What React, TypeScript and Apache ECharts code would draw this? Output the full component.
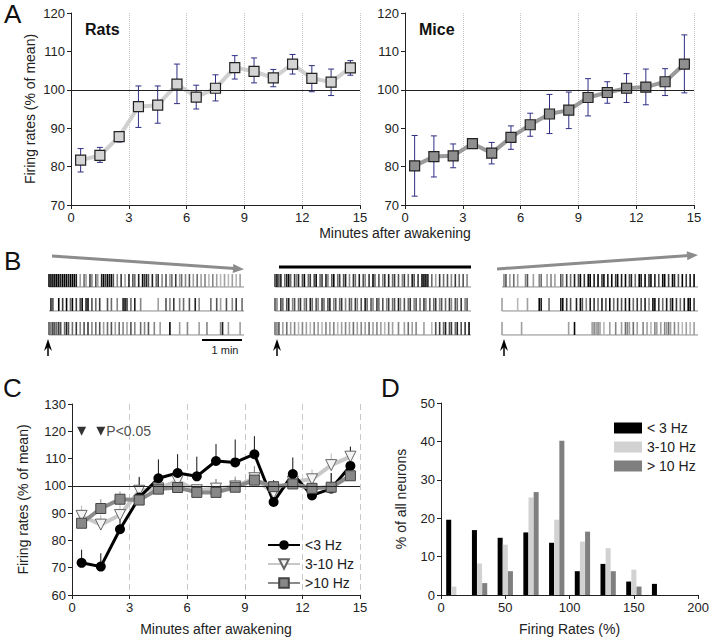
import React, { useEffect, useRef } from "react";
import * as echarts from "echarts";

const FONT = "Liberation Sans, Arial, sans-serif";

// Panel A
const minutes = [0.5, 1.5, 2.5, 3.5, 4.5, 5.5, 6.5, 7.5, 8.5, 9.5, 10.5, 11.5, 12.5, 13.5, 14.5];
const ratsMean = [81.7, 82.9, 87.8, 95.6, 96.0, 101.5, 98.1, 100.4, 105.8, 104.8, 103.1, 106.7, 103.0, 102.0, 105.7];
const ratsUpper = [84.7, 85.0, 88.9, 101.0, 101.0, 106.7, 101.2, 103.9, 108.9, 108.3, 105.3, 109.2, 106.3, 105.4, 107.6];
const ratsLower = [78.6, 81.1, 86.4, 90.2, 91.3, 96.4, 95.0, 97.1, 102.8, 101.8, 100.8, 104.1, 99.5, 98.5, 103.8];
const miceMean = [80.2, 82.6, 82.8, 86.0, 83.5, 87.6, 90.9, 93.7, 94.7, 98.0, 99.3, 100.4, 100.7, 102.1, 106.7];
const miceUpper = [88.1, 88.0, 85.9, 87.1, 86.3, 90.6, 93.9, 98.8, 99.4, 102.9, 102.1, 104.2, 105.4, 105.5, 114.3];
const miceLower = [72.3, 77.3, 79.7, 85.0, 80.7, 84.5, 87.9, 88.6, 89.9, 93.2, 96.5, 96.7, 96.1, 98.5, 99.2];

// Panel C
const lowMean = [71.8, 70.4, 84.1, 95.7, 102.8, 104.7, 103.5, 109.1, 108.6, 111.6, 94.1, 104.3, 96.5, 99.0, 107.3];
const lowUpper = [76.6, 75.3, 89.7, 103.3, 109.7, 111.6, 110.7, 115.3, 117.0, 118.2, 102.1, 110.4, 100.9, 104.7, 114.3];
const midMean = [89.0, 85.8, 89.3, 98.2, 99.1, 101.8, 98.4, 99.0, 99.8, 102.8, 97.3, 101.5, 102.4, 107.6, 110.7];
const midUpper = [92.7, 89.4, 93.3, 103.0, 101.5, 104.5, 100.5, 102.5, 102.5, 106.8, 99.5, 103.5, 106.0, 111.9, 114.6];
const highMean = [86.3, 91.7, 95.1, 94.8, 98.8, 99.4, 97.6, 97.6, 99.5, 102.1, 99.7, 100.7, 99.1, 99.5, 103.7];
const highUpper = [89.0, 95.1, 97.9, 97.5, 100.5, 101.5, 99.5, 102.5, 103.4, 107.3, 101.5, 102.5, 101.0, 104.7, 105.5];
const sigMinutes = [0.5, 1.5];
const sigLevel = 120;

// Panel D
const binCenters = [10, 30, 50, 70, 90, 110, 130, 150, 170];
const histLow = [19.6, 16.9, 14.9, 16.3, 13.6, 6.2, 8.1, 3.5, 2.9];
const histMid = [2.2, 8.2, 13.1, 25.4, 19.6, 13.9, 12.2, 6.6, 0];
const histHigh = [0, 3.1, 6.2, 26.8, 40.2, 16.5, 6.2, 2.2, 0];

// Panel B rasters: [position (% of trace), shade 0-9]
const rasterLeft = [
  [[0,9],[1,9],[2,9],[3,9],[4,9],[5,9],[6,8],[7,9],[8,9],[9,9],[10,8],[11,9],[12,9],[13,9],[14,8],[16,3],[18,5],[19,3],[21,7],[22,4],[24,6],[25,3],[27,8],[28,9],[29,7],[30,9],[31,8],[32,9],[33,6],[35,4],[37,7],[39,3],[41,8],[43,6],[44,5],[46,8],[48,9],[49,7],[50,8],[51,6],[53,8],[55,5],[56,7],[58,4],[60,6],[62,3],[63,5],[65,7],[67,3],[68,5],[70,4],[72,6],[74,3],[76,5],[78,3],[80,4],[82,2],[84,4],[86,3],[88,2],[90,3],[92,2],[94,3],[96,2],[98,3]],
  [[1,8],[2,6],[5,9],[7,7],[9,9],[11,5],[12,9],[14,7],[16,6],[17,9],[19,8],[20,9],[22,6],[24,5],[26,7],[30,6],[32,5],[35,4],[38,8],[39,9],[40,7],[42,5],[44,8],[47,4],[56,3],[60,6],[62,4],[64,7],[67,4],[69,5],[72,6],[75,8],[77,4],[83,5],[86,6],[88,3],[91,6],[94,4],[96,7],[99,5]],
  [[0,6],[1,5],[2,7],[3,6],[4,5],[5,7],[6,6],[8,5],[9,8],[10,6],[12,5],[14,7],[16,4],[18,6],[20,7],[22,4],[24,5],[26,6],[28,3],[30,5],[32,6],[34,3],[36,5],[38,4],[40,3],[42,6],[44,4],[47,5],[49,4],[51,6],[54,4],[57,3],[62,9],[67,3],[71,4],[77,3],[81,4],[88,4],[89,8],[92,3],[98,3]],
];
const rasterMiddle = [
  [[0,7],[1,9],[2,6],[3,8],[5,5],[6,8],[7,9],[8,5],[10,7],[11,4],[12,8],[14,6],[15,9],[17,5],[18,7],[20,6],[21,9],[23,5],[24,7],[26,8],[27,4],[29,6],[30,9],[32,5],[33,7],[35,6],[36,8],[38,4],[40,7],[41,5],[43,8],[45,6],[46,4],[48,7],[50,9],[51,5],[53,6],[55,4],[56,7],[58,8],[60,5],[61,7],[63,6],[65,4],[66,7],[68,5],[70,8],[71,6],[73,7],[75,9],[76,9],[77,9],[78,8],[80,5],[82,3],[84,7],[86,5],[88,6],[90,4],[92,7],[94,5],[96,6],[98,4]],
  [[0,6],[1,4],[3,7],[4,5],[6,6],[7,8],[9,4],[10,6],[12,5],[13,7],[15,4],[16,6],[18,8],[19,5],[21,6],[22,4],[24,7],[25,5],[27,6],[28,8],[30,4],[31,6],[33,5],[34,7],[36,4],[38,6],[39,5],[41,7],[42,4],[44,6],[46,8],[47,5],[49,6],[50,4],[52,7],[53,5],[55,6],[57,4],[58,7],[60,5],[61,6],[63,8],[64,4],[66,6],[68,5],[69,7],[71,4],[72,6],[74,5],[76,7],[77,4],[79,6],[81,5],[82,7],[84,4],[85,6],[87,5],[89,7],[90,4],[92,6],[93,5],[95,7],[97,4],[98,6]],
  [[0,5],[1,4],[2,6],[4,3],[6,5],[8,3],[10,4],[12,2],[14,4],[16,3],[18,2],[20,4],[22,3],[24,2],[26,4],[28,3],[30,4],[32,2],[34,3],[36,4],[38,3],[40,5],[42,3],[44,4],[46,3],[48,5],[50,3],[52,4],[54,3],[56,2],[58,4],[60,3],[63,4],[66,3],[68,5],[70,3],[72,4],[76,3],[80,2],[82,6],[84,7],[86,5],[87,8],[89,6],[90,7],[92,5],[93,8],[95,6],[97,7],[99,9]],
];
const rasterRight = [
  [[1,4],[2,6],[4,3],[6,5],[8,3],[12,4],[13,6],[16,3],[19,4],[20,5],[23,3],[25,4],[27,3],[30,6],[31,4],[33,7],[35,5],[37,8],[39,6],[40,9],[42,7],[44,9],[45,9],[47,8],[49,9],[51,7],[52,9],[54,8],[56,9],[58,7],[59,9],[61,8],[63,9],[65,6],[66,8],[68,5],[70,9],[71,8],[73,9],[75,7],[76,9],[78,8],[80,6],[82,9],[83,9],[85,7],[87,9],[88,8],[90,6],[92,9],[94,7],[96,8],[98,9]],
  [[0,3],[8,2],[13,3],[19,9],[20,8],[24,5],[30,8],[31,9],[33,7],[35,6],[38,8],[40,9],[41,6],[43,4],[45,8],[47,7],[49,5],[51,8],[53,6],[55,9],[57,5],[59,7],[61,6],[63,8],[65,9],[67,5],[69,7],[71,6],[73,8],[75,4],[77,9],[78,9],[80,7],[82,5],[84,8],[86,6],[87,9],[89,7],[91,5],[93,8],[95,9],[96,9],[98,7]],
  [[0,3],[10,3],[34,3],[37,9],[46,3],[47,4],[48,3],[49,4],[50,3],[52,2],[55,3],[58,4],[61,3],[63,5],[64,4],[65,3],[67,5],[69,3],[72,4],[74,3],[76,2],[78,4],[79,3],[81,3],[83,4],[84,3],[85,5],[86,3],[88,4],[90,3],[92,2],[94,3],[96,2],[98,3]],
];
const rowIndices = [0, 1, 2];

const ROW_H = 0.54;

function shadeColor(s: number) {
  const v = Math.round(235 - s * 25.5);
  return `rgb(${v},${v},${v})`;
}

function rasterSeries(rows: number[][][], idx: number) {
  const data: number[][] = [];
  rows.forEach((row, r) => row.forEach(([p, s]) => data.push([p, r, s])));
  return [
    {
      type: "custom",
      xAxisIndex: idx,
      yAxisIndex: idx,
      silent: true,
      data: rowIndices.map((r) => [0, r]),
      renderItem: (params: any, api: any) => {
        const r = api.value(1);
        const a = api.coord([0, r + ROW_H]);
        const b = api.coord([100, r + ROW_H]);
        return { type: "line", shape: { x1: a[0], y1: a[1], x2: b[0], y2: b[1] }, style: { stroke: "#8a8a8a", lineWidth: 1 } };
      },
    },
    {
      type: "custom",
      xAxisIndex: idx,
      yAxisIndex: idx,
      silent: true,
      data,
      renderItem: (params: any, api: any) => {
        const p = api.value(0);
        const r = api.value(1);
        const s = api.value(2);
        const a = api.coord([p, r]);
        const b = api.coord([p, r + ROW_H]);
        return { type: "line", shape: { x1: a[0], y1: a[1], x2: b[0], y2: b[1] }, style: { stroke: shadeColor(s), lineWidth: 1.6 } };
      },
    },
  ];
}

function errorBarSeries(idx: number, lower: number[], upper: number[], color: string, caps: boolean) {
  return {
    type: "custom",
    xAxisIndex: idx,
    yAxisIndex: idx,
    silent: true,
    z: 1,
    data: minutes.map((m, i) => [m, lower[i], upper[i]]),
    renderItem: (params: any, api: any) => {
      const x = api.value(0);
      const lo = api.coord([x, api.value(1)]);
      const hi = api.coord([x, api.value(2)]);
      const children: any[] = [
        { type: "line", shape: { x1: lo[0], y1: lo[1], x2: hi[0], y2: hi[1] }, style: { stroke: color, lineWidth: 1 } },
      ];
      if (caps) {
        children.push({ type: "line", shape: { x1: hi[0] - 3, y1: hi[1], x2: hi[0] + 3, y2: hi[1] }, style: { stroke: color, lineWidth: 1 } });
        children.push({ type: "line", shape: { x1: lo[0] - 3, y1: lo[1], x2: lo[0] + 3, y2: lo[1] }, style: { stroke: color, lineWidth: 1 } });
      }
      return { type: "group", children };
    },
  };
}

function histSeries(name: string, values: number[], offset: number, color: string) {
  return {
    name,
    type: "custom",
    xAxisIndex: 6,
    yAxisIndex: 6,
    silent: true,
    itemStyle: { color },
    data: binCenters.map((c, i) => [c + offset, values[i]]),
    renderItem: (params: any, api: any) => {
      const x = api.value(0);
      const v = api.value(1);
      const tl = api.coord([x - 1.95, v]);
      const br = api.coord([x + 1.95, 0]);
      return { type: "rect", shape: { x: tl[0], y: tl[1], width: br[0] - tl[0], height: br[1] - tl[1] }, style: { fill: color } };
    },
  };
}

function upperBarSeries(mean: number[], upper: number[], color: string) {
  return {
    type: "custom", xAxisIndex: 5, yAxisIndex: 5, silent: true, z: 1,
    data: minutes.map((m, i) => [m, mean[i], upper[i]]),
    renderItem: (p: any, api: any) => {
      const a = api.coord([api.value(0), api.value(1)]);
      const b = api.coord([api.value(0), api.value(2)]);
      return { type: "line", shape: { x1: a[0], y1: a[1], x2: b[0], y2: b[1] }, style: { stroke: color, lineWidth: 1 } };
    },
  };
}

const axisLineStyle = { lineStyle: { color: "#222", width: 1 } };
const labelStyle = { fontSize: 13, color: "#222", fontFamily: FONT };
const nameStyle = { fontSize: 14, color: "#222", fontFamily: FONT };

function minuteXAxis(gridIndex: number, split: any, extra: any = {}) {
  return {
    gridIndex,
    type: "value",
    min: 0,
    max: 15,
    interval: 3,
    axisLine: { show: true, onZero: false, ...axisLineStyle },
    axisTick: { show: true, length: 4, ...axisLineStyle },
    axisLabel: { ...labelStyle, margin: 6 },
    splitLine: split,
    ...extra,
  };
}

function plainAxis(gridIndex: number) {
  return { gridIndex, type: "value", min: 0, max: 100, show: false };
}

function rowAxis(gridIndex: number) {
  return { gridIndex, type: "value", min: 0, max: 3, inverse: true, show: false };
}

function arrowHead(tip: number[], dir: number[], len: number, half: number) {
  const n = Math.hypot(dir[0], dir[1]);
  const d = [dir[0] / n, dir[1] / n];
  const p = [-d[1], d[0]];
  const b = [tip[0] - d[0] * len, tip[1] - d[1] * len];
  return [tip, [b[0] + p[0] * half, b[1] + p[1] * half], [b[0] - p[0] * half, b[1] - p[1] * half]];
}

function upArrow(x: number) {
  return [
    { type: "line", shape: { x1: x, y1: 356, x2: x, y2: 343 }, style: { stroke: "#000", lineWidth: 1.5 } },
    { type: "polygon", shape: { points: [[x, 339], [x - 4, 351], [x, 347], [x + 4, 351]] }, style: { fill: "#000" } },
  ];
}

export default function App() {
  const ref = useRef<HTMLDivElement>(null);
  useEffect(() => {
    if (!ref.current) return;
    const chart = echarts.init(ref.current, null, { renderer: "svg" });
    const option: any = {
      animation: false,
      backgroundColor: "#fff",
      textStyle: { fontFamily: FONT },
      grid: [
        { left: 71, top: 13, width: 289, height: 192 },
        { left: 405, top: 13, width: 289, height: 192 },
        { left: 49, top: 274, width: 195, height: 72 },
        { left: 275, top: 274, width: 196, height: 72 },
        { left: 502, top: 274, width: 196, height: 72 },
        { left: 72, top: 404, width: 288, height: 191 },
        { left: 441, top: 403, width: 260, height: 192 },
      ],
      xAxis: [
        minuteXAxis(0, { show: true, lineStyle: { type: "dotted", color: "#c4c4c4" } }),
        minuteXAxis(1, { show: true, lineStyle: { type: "dotted", color: "#c4c4c4" } }),
        plainAxis(2),
        plainAxis(3),
        plainAxis(4),
        minuteXAxis(5, { show: true, lineStyle: { type: [6, 4], color: "#c8c8c8" } }, {
          name: "Minutes after awakening",
          nameLocation: "middle",
          nameGap: 27,
          nameTextStyle: nameStyle,
        }),
        {
          gridIndex: 6,
          type: "value",
          min: 0,
          max: 200,
          interval: 50,
          axisLine: { show: true, onZero: false, ...axisLineStyle },
          axisTick: { show: true, length: 4, ...axisLineStyle },
          axisLabel: { ...labelStyle, margin: 6 },
          splitLine: { show: false },
          name: "Firing Rates (%)",
          nameLocation: "middle",
          nameGap: 27,
          nameTextStyle: nameStyle,
        },
      ],
      yAxis: [
        {
          gridIndex: 0, type: "value", min: 70, max: 120, interval: 10,
          axisLine: { show: true, ...axisLineStyle }, axisTick: { show: true, length: 4, ...axisLineStyle },
          axisLabel: { ...labelStyle, margin: 6 }, splitLine: { show: false },
          name: "Firing rates (% of mean)", nameLocation: "middle", nameGap: 34, nameTextStyle: nameStyle,
        },
        {
          gridIndex: 1, type: "value", min: 70, max: 120, interval: 10,
          axisLine: { show: true, ...axisLineStyle }, axisTick: { show: true, length: 4, ...axisLineStyle },
          axisLabel: { ...labelStyle, margin: 6 }, splitLine: { show: false },
        },
        rowAxis(2),
        rowAxis(3),
        rowAxis(4),
        {
          gridIndex: 5, type: "value", min: 60, max: 130, interval: 10,
          axisLine: { show: true, ...axisLineStyle }, axisTick: { show: true, length: 4, ...axisLineStyle },
          axisLabel: { ...labelStyle, margin: 6 }, splitLine: { show: false },
          name: "Firing rates (% of mean)", nameLocation: "middle", nameGap: 42, nameTextStyle: nameStyle,
        },
        {
          gridIndex: 6, type: "value", min: 0, max: 50, interval: 10,
          axisLine: { show: true, ...axisLineStyle }, axisTick: { show: true, length: 4, ...axisLineStyle },
          axisLabel: { ...labelStyle, margin: 6 }, splitLine: { show: false },
          name: "% of all neurons", nameLocation: "middle", nameGap: 33, nameTextStyle: nameStyle,
        },
      ],
      legend: [
        {
          data: ["<3 Hz", "3-10 Hz", ">10 Hz"],
          orient: "vertical",
          left: 262,
          top: 533,
          itemWidth: 32,
          itemHeight: 12,
          itemGap: 5,
          textStyle: { fontSize: 14, color: "#222", fontFamily: FONT },
          selectedMode: false,
        },
        {
          data: ["< 3 Hz", "3-10 Hz ", "> 10 Hz"],
          orient: "vertical",
          left: 609,
          top: 416,
          icon: "rect",
          itemWidth: 28,
          itemHeight: 11,
          itemGap: 5,
          textStyle: { fontSize: 14, color: "#222", fontFamily: FONT },
          selectedMode: false,
        },
      ],
      series: [
        // Panel A - rats
        errorBarSeries(0, ratsLower, ratsUpper, "#2f2f85", true),
        {
          type: "line", xAxisIndex: 0, yAxisIndex: 0, z: 3,
          data: minutes.map((m, i) => [m, ratsMean[i]]),
          symbol: "rect", symbolSize: 10,
          lineStyle: { color: "#d0d0d0", width: 4 },
          itemStyle: { color: "#d4d4d4", borderColor: "#222", borderWidth: 1.2 },
          markLine: {
            silent: true, symbol: ["none", "none"], label: { show: false },
            lineStyle: { color: "#222", width: 1, type: "solid" },
            data: [{ yAxis: 100 }],
          },
        },
        // Panel A - mice
        errorBarSeries(1, miceLower, miceUpper, "#2f2f85", true),
        {
          type: "line", xAxisIndex: 1, yAxisIndex: 1, z: 3,
          data: minutes.map((m, i) => [m, miceMean[i]]),
          symbol: "rect", symbolSize: 10,
          lineStyle: { color: "#9a9a9a", width: 4 },
          itemStyle: { color: "#8f8f8f", borderColor: "#222", borderWidth: 1.2 },
          markLine: {
            silent: true, symbol: ["none", "none"], label: { show: false },
            lineStyle: { color: "#222", width: 1, type: "solid" },
            data: [{ yAxis: 100 }],
          },
        },
        // Panel B
        ...rasterSeries(rasterLeft, 2),
        ...rasterSeries(rasterMiddle, 3),
        ...rasterSeries(rasterRight, 4),
        // Panel C
        upperBarSeries(midMean, midUpper, "#b8b8b8"),
        upperBarSeries(highMean, highUpper, "#888"),
        upperBarSeries(lowMean, lowUpper, "#111"),
        {
          name: "3-10 Hz", type: "line", xAxisIndex: 5, yAxisIndex: 5, z: 3,
          data: minutes.map((m, i) => [m, midMean[i]]),
          symbol: "triangle", symbolRotate: 180, symbolSize: 11,
          lineStyle: { color: "#c8c8c8", width: 4 },
          itemStyle: { color: "#f4f4f4", borderColor: "#666", borderWidth: 1 },
        },
        {
          name: "<3 Hz", type: "line", xAxisIndex: 5, yAxisIndex: 5, z: 3,
          data: minutes.map((m, i) => [m, lowMean[i]]),
          symbol: "circle", symbolSize: 10,
          lineStyle: { color: "#000", width: 3 },
          itemStyle: { color: "#000" },
          markLine: {
            silent: true, symbol: ["none", "none"], label: { show: false },
            lineStyle: { color: "#222", width: 1, type: "solid" },
            data: [{ yAxis: 100 }],
          },
        },
        {
          name: ">10 Hz", type: "line", xAxisIndex: 5, yAxisIndex: 5, z: 3,
          data: minutes.map((m, i) => [m, highMean[i]]),
          symbol: "rect", symbolSize: 10,
          lineStyle: { color: "#8a8a8a", width: 4 },
          itemStyle: { color: "#888", borderColor: "#444", borderWidth: 1 },
        },
        {
          type: "scatter", xAxisIndex: 5, yAxisIndex: 5, z: 4, silent: true,
          symbol: "triangle", symbolRotate: 180, symbolSize: 9,
          itemStyle: { color: "#000" },
          data: sigMinutes.map((m, i) =>
            i === sigMinutes.length - 1
              ? { value: [m, sigLevel], label: { show: true, formatter: "P<0.05", position: "right", distance: 1, fontSize: 14, color: "#222", fontFamily: FONT } }
              : { value: [m, sigLevel] }
          ),
        },
        // Panel D
        histSeries("< 3 Hz", histLow, -4, "#000"),
        histSeries("3-10 Hz ", histMid, 0, "#d2d2d2"),
        histSeries("> 10 Hz", histHigh, 4, "#7f7f7f"),
      ],
      graphic: [
        { type: "text", left: 4, top: 1, style: { text: "A", fontSize: 26, fill: "#111", fontFamily: FONT } },
        { type: "text", left: 4, top: 248, style: { text: "B", fontSize: 26, fill: "#111", fontFamily: FONT } },
        { type: "text", left: 3, top: 375, style: { text: "C", fontSize: 26, fill: "#111", fontFamily: FONT } },
        { type: "text", left: 381, top: 375, style: { text: "D", fontSize: 26, fill: "#111", fontFamily: FONT } },
        { type: "text", left: 85, top: 21, style: { text: "Rats", fontSize: 16, fontWeight: "bold", fill: "#111", fontFamily: FONT } },
        { type: "text", left: 419, top: 21, style: { text: "Mice", fontSize: 16, fontWeight: "bold", fill: "#111", fontFamily: FONT } },
        { type: "text", x: 395, y: 233, style: { text: "Minutes after awakening", fontSize: 14, fill: "#222", fontFamily: FONT, align: "center", verticalAlign: "middle" } },
        // trend arrows & bar above rasters
        { type: "line", shape: { x1: 52, y1: 256, x2: 235, y2: 268.5 }, style: { stroke: "#8c8c8c", lineWidth: 3 } },
        { type: "polygon", shape: { points: arrowHead([244, 269.2], [190, 13], 11, 4.5) }, style: { fill: "#8c8c8c" } },
        { type: "line", shape: { x1: 279, y1: 267, x2: 471, y2: 267 }, style: { stroke: "#000", lineWidth: 3 } },
        { type: "line", shape: { x1: 497, y1: 269, x2: 689, y2: 255.6 }, style: { stroke: "#8c8c8c", lineWidth: 3 } },
        { type: "polygon", shape: { points: arrowHead([698, 255], [200, -14], 11, 4.5) }, style: { fill: "#8c8c8c" } },
        ...upArrow(48),
        ...upArrow(277),
        ...upArrow(504),
        { type: "line", shape: { x1: 202, y1: 340, x2: 242, y2: 340 }, style: { stroke: "#000", lineWidth: 2 } },
        { type: "text", x: 225, y: 350, style: { text: "1 min", fontSize: 11, fill: "#222", fontFamily: FONT, align: "center", verticalAlign: "middle" } },
      ],
    };
    chart.setOption(option);
    return () => chart.dispose();
  }, []);
  return <div ref={ref} style={{ position: "absolute", left: 0, top: 0, width: 712, height: 640 }} />;
}
